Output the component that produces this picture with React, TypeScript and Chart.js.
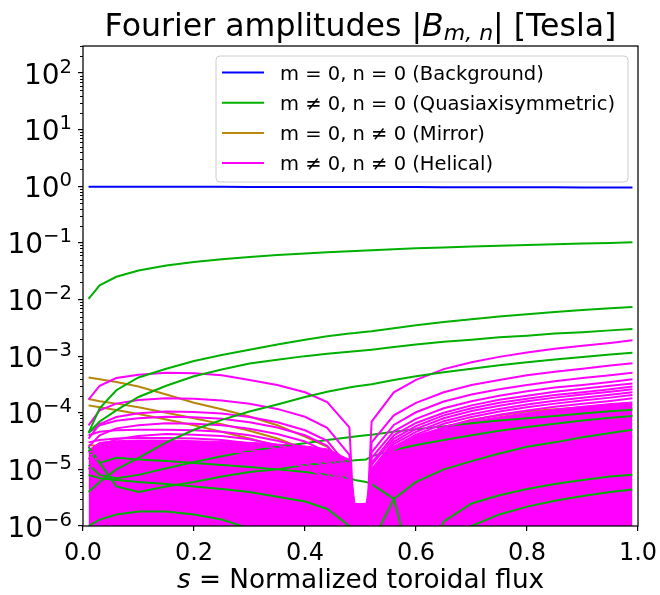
import React, { useEffect, useRef } from "react";
import { Chart, registerables } from "chart.js";

Chart.register(...registerables);

// ---------- data ----------
const S = [0.01, 0.03, 0.06, 0.1, 0.15, 0.2, 0.25, 0.3, 0.35, 0.4, 0.44, 0.48, 0.49, 0.51, 0.52, 0.56, 0.6, 0.65, 0.7, 0.75, 0.8, 0.85, 0.9, 0.95, 0.99];

const background = [0.98, 0.98, 0.98, 0.98, 0.978, 0.978, 0.976, 0.975, 0.974, 0.973, 0.972, 0.971, 0.97, 0.97, 0.969, 0.968, 0.966, 0.964, 0.962, 0.96, 0.958, 0.956, 0.954, 0.952, 0.95];

const qa1 = [0.0103, 0.0178, 0.0252, 0.0326, 0.0399, 0.046, 0.0515, 0.0564, 0.061, 0.065, 0.068, 0.071, 0.072, 0.0735, 0.074, 0.077, 0.08, 0.083, 0.086, 0.089, 0.092, 0.095, 0.098, 0.1, 0.103];
const qa2 = [4.4e-5, 1.2e-4, 2.5e-4, 4.2e-4, 6e-4, 8.2e-4, 1.05e-3, 1.3e-3, 1.6e-3, 1.95e-3, 2.25e-3, 2.5e-3, 2.55e-3, 2.7e-3, 2.75e-3, 3.1e-3, 3.5e-3, 4e-3, 4.5e-3, 5e-3, 5.5e-3, 6e-3, 6.5e-3, 7e-3, 7.4e-3];
const qa3 = [4.4e-5, 7e-5, 1.1e-4, 1.9e-4, 3e-4, 4.4e-4, 5.8e-4, 7.4e-4, 8.6e-4, 1e-3, 1.1e-3, 1.2e-3, 1.22e-3, 1.27e-3, 1.3e-3, 1.45e-3, 1.6e-3, 1.8e-3, 1.95e-3, 2.15e-3, 2.3e-3, 2.5e-3, 2.65e-3, 2.85e-3, 3e-3];
const qa4 = [4e-6, 6e-6, 1e-5, 1.6e-5, 3e-5, 5e-5, 7.5e-5, 1.05e-4, 1.4e-4, 1.9e-4, 2.35e-4, 2.8e-4, 2.9e-4, 3.1e-4, 3.2e-4, 3.8e-4, 4.4e-4, 5.2e-4, 6e-4, 6.9e-4, 7.8e-4, 8.7e-4, 9.7e-4, 1.07e-3, 1.15e-3];
const qa5 = [1.2e-5, 8e-6, 7e-6, 8e-6, 1.05e-5, 1.35e-5, 1.7e-5, 2.1e-5, 2.5e-5, 2.9e-5, 3.3e-5, 3.7e-5, 3.8e-5, 4e-5, 4.1e-5, 4.6e-5, 5.1e-5, 5.8e-5, 6.5e-5, 7.3e-5, 8e-5, 8.8e-5, 9.7e-5, 1.06e-4, 1.13e-4];
const qa6 = [2.5e-5, 1.3e-5, 5e-6, 4e-6, 5e-6, 6e-6, 7.5e-6, 9e-6, 1e-5, 1.2e-5, 1.3e-5, 1.4e-5, 1.45e-5, 1.5e-5, 1.7e-5, 2.2e-5, 2.7e-5, 3.3e-5, 4e-5, 4.8e-5, 5.6e-5, 6.4e-5, 7.3e-5, 8.2e-5, 8.8e-5];
const qa7 = [2.2e-5, 1.3e-5, 1.6e-5, 1.5e-5, 1.4e-5, 1.3e-5, 1.2e-5, 1.1e-5, 1e-5, 9e-6, 8e-6, 7e-6, 6.5e-6, 6e-6, 5.5e-6, 3e-6, 1e-7, 1.2e-6, 2.5e-6, 3.5e-6, 4.5e-6, 5.5e-6, 6.5e-6, 7.5e-6, 8e-6];
const qa8 = [1e-6, 1.3e-6, 1.6e-6, 1.8e-6, 1.8e-6, 1.6e-6, 1.3e-6, 9e-7, 6e-7, 4e-7, 3e-7, 2e-7, 2e-7, 2e-7, 2e-7, 3e-7, 4e-7, 5e-7, 1e-6, 1.6e-6, 2.2e-6, 2.8e-6, 3.4e-6, 4e-6, 4.4e-6];
const qa9 = [8e-6, 7e-6, 6.5e-6, 6e-6, 5.5e-6, 5e-6, 4.5e-6, 4e-6, 3.3e-6, 2.7e-6, 2e-6, 1e-6, 1e-7, 1e-7, 5e-7, 3e-6, 6e-6, 1e-5, 1.4e-5, 1.9e-5, 2.5e-5, 3e-5, 3.7e-5, 4.4e-5, 5e-5];

const mir1 = [4.2e-4, 3.9e-4, 3.5e-4, 2.9e-4, 2.1e-4, 1.5e-4, 1.15e-4, 8.6e-5, 6e-5, 3.8e-5, 2.5e-5, 1.1e-5, 1e-6, 8e-7, 6e-6, 2e-5, 3.5e-5, 5.5e-5, 7.5e-5, 9e-5, 1.05e-4, 1.15e-4, 1.25e-4, 1.35e-4, 1.4e-4];
const mir2 = [1.75e-4, 1.6e-4, 1.45e-4, 1.25e-4, 1e-4, 8e-5, 6.3e-5, 4.8e-5, 3.5e-5, 2.3e-5, 1.5e-5, 6e-6, 8e-7, 6e-7, 3e-6, 1e-5, 1.8e-5, 2.8e-5, 3.8e-5, 5e-5, 6.2e-5, 7.5e-5, 9e-5, 1.05e-4, 1.2e-4];
const mir3 = [1.35e-4, 1.25e-4, 1.12e-4, 9.5e-5, 7.6e-5, 6e-5, 4.6e-5, 3.5e-5, 2.6e-5, 1.7e-5, 1.1e-5, 4.5e-6, 6e-7, 5e-7, 2.5e-6, 8e-6, 1.4e-5, 2.2e-5, 3e-5, 4e-5, 5e-5, 6e-5, 7e-5, 8e-5, 9e-5];
const mir4 = [2.7e-5, 2.6e-5, 2.4e-5, 2.2e-5, 1.9e-5, 1.7e-5, 1.5e-5, 1.3e-5, 1.1e-5, 8.5e-6, 6e-6, 2.5e-6, 5e-7, 4e-7, 1.5e-6, 4e-6, 7e-6, 1e-5, 1.4e-5, 1.8e-5, 2.2e-5, 2.6e-5, 3e-5, 3.4e-5, 3.8e-5];

const hel1 = [1.7e-4, 3e-4, 4.1e-4, 4.7e-4, 5.1e-4, 5e-4, 4.6e-4, 3.8e-4, 3.1e-4, 2.3e-4, 1.55e-4, 5.5e-5, 6e-7, 6e-7, 7e-5, 2.3e-4, 3.8e-4, 5.9e-4, 7.8e-4, 9.7e-4, 1.16e-3, 1.35e-3, 1.52e-3, 1.71e-3, 1.9e-3];
const hel2 = [6e-5, 1.1e-4, 1.45e-4, 1.68e-4, 1.8e-4, 1.76e-4, 1.65e-4, 1.44e-4, 1.17e-4, 8.5e-5, 5.4e-5, 1.8e-5, 5e-7, 5e-7, 3e-5, 9e-5, 1.5e-4, 2.3e-4, 3.1e-4, 3.8e-4, 4.6e-4, 5.3e-4, 6e-4, 6.8e-4, 7.5e-4];
const hel3 = [3.5e-5, 6.3e-5, 8.4e-5, 9.8e-5, 1.05e-4, 1.03e-4, 9.7e-5, 8.4e-5, 6.8e-5, 4.9e-5, 3.2e-5, 1.05e-5, 4e-7, 4e-7, 2e-5, 6.1e-5, 1.02e-4, 1.58e-4, 2.1e-4, 2.6e-4, 3.1e-4, 3.6e-4, 4.1e-4, 4.6e-4, 5.1e-4];
const hel4 = [4.5e-5, 6e-5, 7.2e-5, 8e-5, 8.5e-5, 8.3e-5, 7.8e-5, 6.8e-5, 5.5e-5, 4e-5, 2.6e-5, 8.5e-6, 3e-7, 3e-7, 1.6e-5, 4.7e-5, 7.8e-5, 1.2e-4, 1.6e-4, 2e-4, 2.4e-4, 2.8e-4, 3.1e-4, 3.5e-4, 3.9e-4];
const hel5 = [2.5e-5, 4e-5, 5.3e-5, 6e-5, 6.5e-5, 6.4e-5, 6e-5, 5.2e-5, 4.2e-5, 3.1e-5, 2e-5, 6.5e-6, 3e-7, 3e-7, 1.3e-5, 4e-5, 6.6e-5, 1e-4, 1.35e-4, 1.7e-4, 2e-4, 2.35e-4, 2.65e-4, 3e-4, 3.3e-4];
const hel6 = [4e-5, 4.6e-5, 4.9e-5, 5e-5, 5e-5, 4.9e-5, 4.6e-5, 4e-5, 3.2e-5, 2.4e-5, 1.5e-5, 5e-6, 3e-7, 3e-7, 1.2e-5, 3.5e-5, 5.8e-5, 9e-5, 1.2e-4, 1.5e-4, 1.77e-4, 2.05e-4, 2.3e-4, 2.6e-4, 2.9e-4];
const hel7 = [1.5e-5, 2.6e-5, 3.4e-5, 3.9e-5, 4.2e-5, 4.1e-5, 3.9e-5, 3.4e-5, 2.7e-5, 2e-5, 1.3e-5, 4.2e-6, 3e-7, 3e-7, 1e-5, 3.1e-5, 5.2e-5, 8e-5, 1.07e-4, 1.33e-4, 1.6e-4, 1.85e-4, 2.1e-4, 2.35e-4, 2.6e-4];
const hel8 = [3e-5, 3.3e-5, 3.5e-5, 3.6e-5, 3.6e-5, 3.5e-5, 3.3e-5, 2.9e-5, 2.3e-5, 1.7e-5, 1.1e-5, 3.6e-6, 3e-7, 3e-7, 9e-6, 2.8e-5, 4.6e-5, 7.1e-5, 9.4e-5, 1.17e-4, 1.4e-4, 1.63e-4, 1.84e-4, 2.07e-4, 2.3e-4];
const hel9 = [1e-5, 1.8e-5, 2.3e-5, 2.6e-5, 2.8e-5, 2.75e-5, 2.6e-5, 2.25e-5, 1.8e-5, 1.3e-5, 8.5e-6, 2.8e-6, 3e-7, 3e-7, 8e-6, 2.5e-5, 4.1e-5, 6.4e-5, 8.4e-5, 1.05e-4, 1.25e-4, 1.45e-4, 1.64e-4, 1.85e-4, 2.05e-4];
const hel10 = [2e-5, 2.2e-5, 2.3e-5, 2.4e-5, 2.4e-5, 2.3e-5, 2.2e-5, 1.9e-5, 1.55e-5, 1.1e-5, 7e-6, 2.4e-6, 3e-7, 3e-7, 7e-6, 2.2e-5, 3.6e-5, 5.6e-5, 7.4e-5, 9.2e-5, 1.1e-4, 1.28e-4, 1.44e-4, 1.62e-4, 1.8e-4];
// upper edge of the dense mass of small helical modes
const helDense = [2.2e-5, 3e-5, 3.2e-5, 3.3e-5, 3.3e-5, 3.2e-5, 3.1e-5, 3e-5, 2.8e-5, 2.6e-5, 2.3e-5, 1.5e-5, 2.5e-6, 2.5e-6, 1e-5, 2.5e-5, 4e-5, 5.5e-5, 7e-5, 8.5e-5, 1e-4, 1.15e-4, 1.3e-4, 1.45e-4, 1.55e-4];

const quasiAxiUpper = [qa1, qa2, qa3, qa4];
const quasiAxiLower = [qa5, qa6, qa7, qa8, qa9];
const mirror = [mir1, mir2, mir3, mir4];
const helical = [hel1, hel2, hel3, hel4, hel5, hel6, hel7, hel8, hel9, hel10];

const X_TICKS = [0, 0.2, 0.4, 0.6, 0.8, 1.0];
const Y_TICKS = [1e-6, 1e-5, 1e-4, 1e-3, 1e-2, 1e-1, 1, 10, 100];
const Y_EXP = ["\u22126", "\u22125", "\u22124", "\u22123", "\u22122", "\u22121", "0", "1", "2"];
const Y_MIN = 1e-6;
const Y_MAX = 300;

const LEGEND_LABELS = [
  "m = 0, n = 0 (Background)",
  "m \u2260 0, n = 0 (Quasiaxisymmetric)",
  "m = 0, n \u2260 0 (Mirror)",
  "m \u2260 0, n \u2260 0 (Helical)",
];
const C_BG = "#0000ff";
const C_QA = "#00b000";
const C_MIR = "#b8860b";
const C_HEL = "#ff00ff";
const LEGEND_COLORS = [C_BG, C_QA, C_MIR, C_HEL];

const FONT = "'DejaVu Sans', sans-serif";

const pts = (vals: number[]) => vals.map((v, i) => ({ x: S[i], y: v }));
const mkLine = (vals: number[], color: string, order: number, extra: any = {}) => ({
  data: pts(vals),
  borderColor: color,
  backgroundColor: color,
  borderWidth: 2,
  pointRadius: 0,
  fill: false,
  tension: 0,
  order,
  ...extra,
});

type Run = { t: string; font: string; dy?: number };
function drawRuns(ctx: CanvasRenderingContext2D, runs: Run[], x: number, baseline: number, align: "left" | "center" | "right") {
  ctx.textAlign = "left";
  ctx.textBaseline = "alphabetic";
  const widths = runs.map((r) => {
    ctx.font = r.font;
    return ctx.measureText(r.t).width;
  });
  const total = widths.reduce((a, b) => a + b, 0);
  let cx = align === "left" ? x : align === "center" ? x - total / 2 : x - total;
  runs.forEach((r, i) => {
    ctx.font = r.font;
    ctx.fillText(r.t, cx, baseline + (r.dy || 0));
    cx += widths[i];
  });
}

const decor = {
  id: "decor",
  afterDraw(chart: any) {
    const { ctx, chartArea: a, scales } = chart;
    const ys = scales.y;
    const xs = scales.x;
    ctx.save();
    ctx.fillStyle = "#000";
    ctx.strokeStyle = "#000";

    // frame
    ctx.lineWidth = 1.25;
    ctx.strokeRect(a.left, a.top, a.right - a.left, a.bottom - a.top);

    // minor ticks on the log axis
    ctx.lineWidth = 1;
    for (let e = -6; e <= 2; e++) {
      for (let m = 2; m <= 9; m++) {
        const v = m * Math.pow(10, e);
        if (v > Y_MAX) continue;
        const py = Math.round(ys.getPixelForValue(v)) + 0.5;
        ctx.beginPath();
        ctx.moveTo(a.left - 3, py);
        ctx.lineTo(a.left, py);
        ctx.stroke();
      }
    }

    // y tick labels 10^k
    Y_TICKS.forEach((v, i) => {
      const py = ys.getPixelForValue(v);
      drawRuns(ctx, [
        { t: "10", font: `28px ${FONT}` },
        { t: Y_EXP[i], font: `19.6px ${FONT}`, dy: -11 },
      ], 72, py + 10.5, "right");
    });

    // x tick labels
    X_TICKS.forEach((v) => {
      const px = xs.getPixelForValue(v);
      drawRuns(ctx, [{ t: v.toFixed(1), font: `24px ${FONT}` }], px, 560, "center");
    });

    const cx = (a.left + a.right) / 2;
    // title
    drawRuns(ctx, [
      { t: "Fourier amplitudes |", font: `31.6px ${FONT}` },
      { t: "B", font: `italic 31.6px ${FONT}` },
      { t: "m, n", font: `italic 22px ${FONT}`, dy: 4 },
      { t: "| [Tesla]", font: `31.6px ${FONT}` },
    ], cx, 36, "center");

    // x axis title
    drawRuns(ctx, [
      { t: "s", font: `italic 26.3px ${FONT}` },
      { t: " = Normalized toroidal flux", font: `26.3px ${FONT}` },
    ], cx, 588, "center");

    // legend
    const lx = 216, ly = 56, lw = 412, lh = 126, r = 4;
    ctx.beginPath();
    ctx.moveTo(lx + r, ly);
    ctx.arcTo(lx + lw, ly, lx + lw, ly + lh, r);
    ctx.arcTo(lx + lw, ly + lh, lx, ly + lh, r);
    ctx.arcTo(lx, ly + lh, lx, ly, r);
    ctx.arcTo(lx, ly, lx + lw, ly, r);
    ctx.closePath();
    ctx.fillStyle = "rgba(255,255,255,0.8)";
    ctx.fill();
    ctx.strokeStyle = "#cccccc";
    ctx.lineWidth = 1;
    ctx.stroke();
    LEGEND_LABELS.forEach((lab, i) => {
      const rowY = 72.5 + i * 30.2;
      ctx.strokeStyle = LEGEND_COLORS[i];
      ctx.lineWidth = 2;
      ctx.beginPath();
      ctx.moveTo(222, rowY);
      ctx.lineTo(264, rowY);
      ctx.stroke();
      ctx.fillStyle = "#000";
      drawRuns(ctx, [{ t: lab, font: `19.5px ${FONT}` }], 280, rowY + 7, "left");
    });
    ctx.restore();
  },
};

export default function App() {
  const ref = useRef<HTMLCanvasElement>(null);
  useEffect(() => {
    if (!ref.current) return;
    const datasets: any[] = [];
    datasets.push(mkLine(background, C_BG, 1));
    quasiAxiUpper.forEach((d) => datasets.push(mkLine(d, C_QA, 5)));
    helical.forEach((d) => datasets.push(mkLine(d, C_HEL, 20)));
    quasiAxiLower.forEach((d) => datasets.push(mkLine(d, C_QA, 40)));
    datasets.push(mkLine(helDense, C_HEL, 60, { fill: "start", borderWidth: 1 }));
    mirror.forEach((d) => datasets.push(mkLine(d, C_MIR, 70)));

    const chart = new Chart(ref.current, {
      type: "line",
      data: { datasets },
      options: {
        animation: false,
        responsive: false,
        devicePixelRatio: 1,
        events: [],
        layout: { padding: { left: 0, top: 46, right: 22, bottom: 0 } },
        plugins: { legend: { display: false }, title: { display: false }, tooltip: { enabled: false } },
        scales: {
          x: {
            type: "linear",
            min: 0,
            max: 1,
            afterBuildTicks: (sc: any) => { sc.ticks = X_TICKS.map((v) => ({ value: v })); },
            afterFit: (sc: any) => { sc.height = 69; },
            ticks: { display: false },
            grid: { display: true, drawOnChartArea: false, drawTicks: true, tickLength: 5, color: "#000", lineWidth: 1.2 },
            border: { display: false },
          },
          y: {
            type: "logarithmic",
            min: Y_MIN,
            max: Y_MAX,
            afterBuildTicks: (sc: any) => { sc.ticks = Y_TICKS.map((v) => ({ value: v })); },
            afterFit: (sc: any) => { sc.width = 83; },
            ticks: { display: false },
            grid: { display: true, drawOnChartArea: false, drawTicks: true, tickLength: 5, color: "#000", lineWidth: 1.2 },
            border: { display: false },
          },
        },
      },
      plugins: [decor],
    } as any);
    return () => chart.destroy();
  }, []);
  return (
    <canvas
      ref={ref}
      width={660}
      height={595}
      style={{ position: "fixed", left: 0, top: 0, width: 660, height: 595, background: "#fff" }}
    />
  );
}
